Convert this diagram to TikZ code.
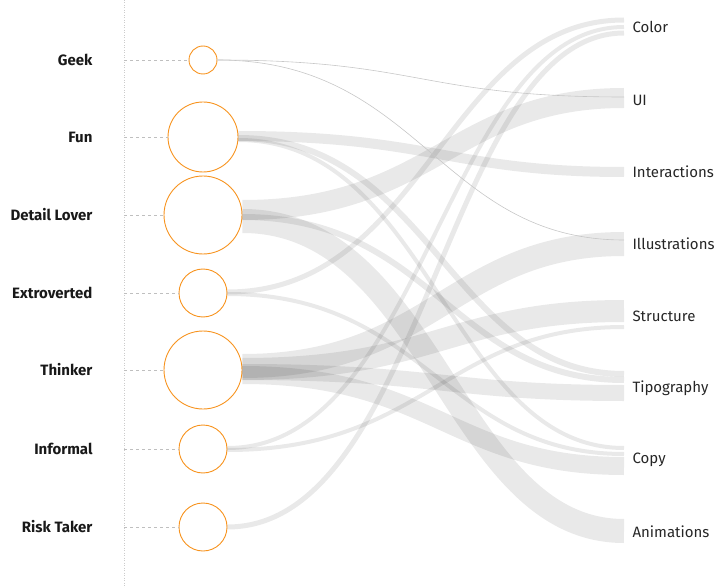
\documentclass[tikz,border=0pt]{standalone}
\usepackage{fontspec}
\setmainfont{Fira Sans}
\usetikzlibrary{calc}
\definecolor{org}{HTML}{F7931E}
\tikzset{
  circ/.style={circle,draw=org,line width=0.9pt,inner sep=0pt},
  llab/.style={anchor=east,font=\bfseries\fontsize{15}{17}\selectfont,text=black!90},
  rlab/.style={anchor=west,font=\fontsize{15}{17}\selectfont,text=black!85},
  guide/.style={dashed,draw=black!25,line width=0.4pt},
  flow/.style={draw=black,draw opacity=0.085},
  thin/.style={draw=black!22,line width=0.6pt}
}
\newcommand{\fl}[4]{% source, src offset, target, width
  \draw[flow,line width=#4pt] let \p1=($(#1.east)+(0,#2)$), \p2=(#3) in
    (\p1) .. controls ({0.5*\x1+0.5*\x2},\y1) and ({0.45*\x1+0.55*\x2},\y2) .. (\p2);}
\begin{document}
\begin{tikzpicture}[x=1pt,y=-1pt]
\useasboundingbox (0,0) rectangle (723,588);
\draw[dotted,draw=black!20,line width=0.5pt] (124,0) -- (124,588);
% circles
\node[circ,minimum size=28pt] (geek) at (203,60) {};
\node[circ,minimum size=70pt] (fun) at (203,137) {};
\node[circ,minimum size=78pt] (detail) at (203,215) {};
\node[circ,minimum size=48pt] (extro) at (203,293) {};
\node[circ,minimum size=78pt] (think) at (203,370) {};
\node[circ,minimum size=48pt] (inf) at (203,449) {};
\node[circ,minimum size=48pt] (risk) at (203,527) {};
% left labels
\foreach \n/\t/\y in {geek/Geek/60,fun/Fun/137,detail/Detail Lover/215,extro/Extroverted/293,think/Thinker/370,inf/Informal/449,risk/Risk Taker/527}{
  \node[llab] (l\n) at (96,\y) {\t};
  \coordinate (g\n) at (124,\y);
  \draw[guide] (g\n) -- (\n.west);
}
% right labels
\foreach \n/\t/\y in {color/Color/27,ui/UI/100,inter/Interactions/172,illu/Illustrations/244,struc/Structure/316,tipo/Tipography/388,copy/Copy/460,anim/Animations/532}{
  \node[rlab] (r\n) at (629,\y) {\t};
}
\coordinate (cColor1) at (624,20);
\coordinate (cColor2) at (624,27);
\coordinate (cColor3) at (624,33);
\coordinate (cUIthin) at (624,97);
\coordinate (cUI) at (624,98);
\coordinate (cInter) at (624,172);
\coordinate (cIlluThin) at (624,240);
\coordinate (cIllu) at (624,244);
\coordinate (cStruc) at (624,311);
\coordinate (cStrucThin) at (624,327);
\coordinate (cTipo1) at (624,374);
\coordinate (cTipo2) at (624,380);
\coordinate (cTipo3) at (624,393);
\coordinate (cCopy1) at (624,448);
\coordinate (cCopy2) at (624,454);
\coordinate (cCopy3) at (624,466);
\coordinate (cAnim) at (624,531);
% flows
\fl{fun}{-1}{cInter}{10}
\fl{fun}{1}{cTipo1}{6}
\fl{fun}{3}{cCopy1}{4}
\fl{detail}{-5}{cUI}{20}
\fl{detail}{2}{cTipo2}{6}
\fl{detail}{6}{cAnim}{24}
\fl{extro}{-1}{cColor1}{5}
\fl{extro}{1}{cCopy2}{4}
\fl{think}{-4}{cIllu}{24}
\fl{think}{-1}{cStruc}{22}
\fl{think}{2}{cTipo3}{16}
\fl{think}{5}{cCopy3}{18}
\fl{inf}{-1}{cColor2}{4}
\fl{inf}{1}{cStrucThin}{4}
\fl{risk}{0}{cColor3}{5}
\draw[thin] (geek.east) .. controls (420,60) and (420,97) .. (cUIthin);
\draw[thin] (geek.east) .. controls (420,60) and (440,240) .. (cIlluThin);
\end{tikzpicture}
\end{document}
